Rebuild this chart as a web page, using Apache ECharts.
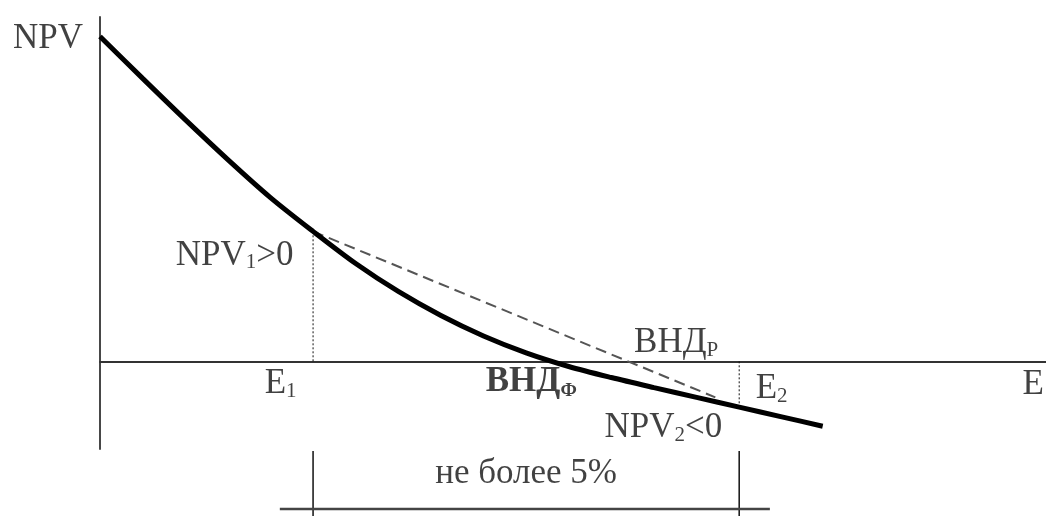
<!DOCTYPE html>
<html>
<head>
<meta charset="utf-8">
<script src="https://cdn.jsdelivr.net/npm/echarts@6/dist/echarts.min.js"></script>
<style>
html,body{margin:0;padding:0;background:#fff;}
#c{width:1046px;height:516px;}
</style>
</head>
<body>
<div id="c"></div>
<script>
// NPV curve (E = discount rate, arbitrary units; NPV arbitrary units)
var curveE   = [0, 0.5, 1, 1.5, 2, 2.5, 3, 3.5, 4, 4.5, 5, 5.5, 6, 6.5, 7, 7.5, 8, 8.48];
var curveNPV = [100, 87.1, 74.4, 62.1, 50.4, 40, 30.1, 21.5, 14.1, 7.8, 2.6, -1.6, -5.0, -8.1, -11.1, -14.1, -17.1, -20.0];
// chord (linear interpolation) between NPV1 and NPV2
var chordE   = [2.5, 7.22];
var chordNPV = [40, -11.1];
// E1, E2 rates
var E1 = 2.5, NPV1 = 40;
var E2 = 7.5, NPV2 = -14.1;
// bracket "не более 5%"
var bracketTickTop = -27.6, bracketTickBottom = -47.6;
var bracketLineY = -45.5, bracketLineE = [2.11, 7.86];
// text labels
var labelE    = [-0.61, 1.58, 2.12, 5.06, 6.76, 7.88, 6.61, 10.95, 5.0];
var labelNPV  = [99.4, 32.6, -7.0, -6.5, 5.6, -8.6, -20.5, -7.1, -34.6];
var labelMain = ['NPV', 'NPV', 'E', 'ВНД', 'ВНД', 'E', 'NPV', 'E', 'не более 5%'];
var labelSub  = ['', '1', '1', 'Ф', 'Р', '2', '2', '', ''];
var labelTail = ['', '>0', '', '', '', '', '<0', '', ''];
var labelBold = [false, false, false, true, false, false, false, false, false];

var font = 'Liberation Serif, Times New Roman, serif';
var txtColor = '#111';

function pairs(xs, ys){ return xs.map(function(x,i){ return [x, ys[i]]; }); }

var labelData = labelE.map(function(e, i){
  var b = labelBold[i];
  var s = '{' + (b ? 'mb' : 'm') + '|' + labelMain[i] + '}';
  if (labelSub[i]) s += '{' + (b ? 'sb' : 's') + '|' + labelSub[i] + '}';
  if (labelTail[i]) s += '{m|' + labelTail[i] + '}';
  return { value: [e, labelNPV[i]], label: { formatter: s } };
});

var chart = echarts.init(document.getElementById('c'), null, {renderer: 'canvas'});
chart.setOption({
  animation: false,
  backgroundColor: '#fff',
  grid: { left: 100, right: 0, top: 17, height: 432 },
  xAxis: {
    type: 'value', min: 0, max: 11.1,
    axisLine: { show: true, onZero: true, lineStyle: { color: '#333', width: 2 } },
    axisTick: { show: false }, axisLabel: { show: false }, splitLine: { show: false }
  },
  yAxis: {
    type: 'value', min: -27, max: 106,
    axisLine: { show: true, onZero: false, lineStyle: { color: '#333', width: 1.8 } },
    axisTick: { show: false }, axisLabel: { show: false }, splitLine: { show: false }
  },
  series: [
    { type: 'line', data: [[E1, 0], [E1, NPV1]], symbol: 'none', silent: true,
      lineStyle: { color: '#111', width: 1, type: [2, 2] } },
    { type: 'line', data: [[E2, 0], [E2, NPV2]], symbol: 'none', silent: true,
      lineStyle: { color: '#111', width: 1, type: [2, 2] } },
    { type: 'line', data: pairs(chordE, chordNPV), symbol: 'none', silent: true,
      lineStyle: { color: '#555', width: 2, type: [11, 6] } },
    { type: 'line', data: pairs(curveE, curveNPV), symbol: 'none', smooth: 0.3, silent: true,
      lineStyle: { color: '#000', width: 5, cap: 'butt' } },
    { type: 'line', data: [[E1, bracketTickTop], [E1, bracketTickBottom]], symbol: 'none', clip: false, silent: true,
      lineStyle: { color: '#111', width: 1.5 } },
    { type: 'line', data: [[E2, bracketTickTop], [E2, bracketTickBottom]], symbol: 'none', clip: false, silent: true,
      lineStyle: { color: '#111', width: 1.5 } },
    { type: 'line', data: [[bracketLineE[0], bracketLineY], [bracketLineE[1], bracketLineY]], symbol: 'none', clip: false, silent: true,
      lineStyle: { color: '#444', width: 2.5 } },
    { type: 'scatter', data: labelData, symbol: 'circle', symbolSize: 1, clip: false, silent: true,
      itemStyle: { color: 'rgba(0,0,0,0)' },
      label: {
        show: true, position: 'inside', align: 'center', verticalAlign: 'middle',
        rich: {
          m:  { fontFamily: font, fontSize: 35, color: txtColor, lineHeight: 36 },
          s:  { fontFamily: font, fontSize: 21, color: txtColor, lineHeight: 21, verticalAlign: 'bottom' },
          mb: { fontFamily: font, fontSize: 35, fontWeight: 'bold', color: txtColor, lineHeight: 36 },
          sb: { fontFamily: font, fontSize: 19, fontWeight: 'bold', color: txtColor, lineHeight: 19, verticalAlign: 'bottom' }
        }
      }
    }
  ]
});
</script>
</body>
</html>
